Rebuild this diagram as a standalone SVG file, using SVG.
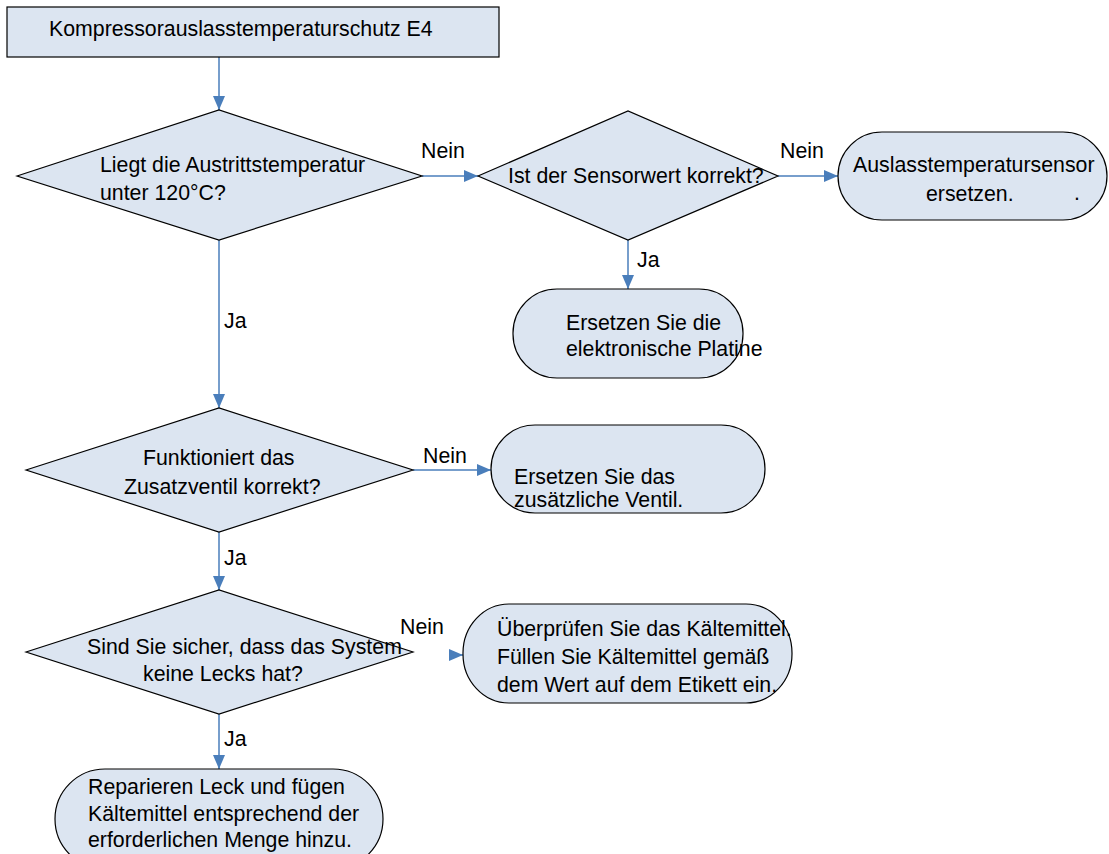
<svg xmlns="http://www.w3.org/2000/svg" width="1109" height="854" viewBox="0 0 1109 854">
<style>
.n{fill:#dce5f1;stroke:#000;stroke-width:1.2}
.t{font-family:"Liberation Sans",Arial,sans-serif;font-size:21.3px;fill:#000}
.c{fill:none;stroke:#4a7ebb;stroke-width:1.5}
</style>
<defs>
<marker id="ah" viewBox="0 0 14 12" refX="14" refY="6" markerWidth="14" markerHeight="12" markerUnits="userSpaceOnUse" orient="auto">
<path d="M0,0 L14,6 L0,12 z" fill="#4a7ebb"/>
</marker>
</defs>
<rect width="1109" height="854" fill="#fff"/>
<g id="connectors">
<path class="c" d="M219,57 V110" marker-end="url(#ah)"/>
<path class="c" d="M422,176 H478" marker-end="url(#ah)"/>
<path class="c" d="M778,176 H838" marker-end="url(#ah)"/>
<path class="c" d="M628,240 V289" marker-end="url(#ah)"/>
<path class="c" d="M219,240 V408" marker-end="url(#ah)"/>
<path class="c" d="M413,470 H491" marker-end="url(#ah)"/>
<path class="c" d="M219,532 V590" marker-end="url(#ah)"/>
<path class="c" d="M450,655 H463" marker-end="url(#ah)"/>
<path class="c" d="M219,714 V769" marker-end="url(#ah)"/>
<text class="t" x="421" y="158">Nein</text>
<text class="t" x="780" y="158">Nein</text>
<text class="t" x="637" y="267">Ja</text>
<text class="t" x="224" y="328">Ja</text>
<text class="t" x="423" y="463">Nein</text>
<text class="t" x="224" y="565">Ja</text>
<text class="t" x="400" y="634">Nein</text>
<text class="t" x="224" y="746">Ja</text>
</g>
<g id="start">
<rect class="n" x="7" y="7" width="492" height="50"/>
<text class="t" x="49" y="36">Kompressorauslasstemperaturschutz E4</text>
</g>
<g id="d1">
<polygon class="n" points="17,176 219,110 422,176 219,240"/>
<text class="t" x="100" y="172">Liegt die Austrittstemperatur</text>
<text class="t" x="100" y="200">unter 120°C?</text>
</g>
<g id="d2">
<polygon class="n" points="478,176 628,111 778,176 628,240"/>
<text class="t" x="508" y="183">Ist der Sensorwert korrekt?</text>
</g>
<g id="r1">
<rect class="n" x="838" y="132" width="269" height="88" rx="44" ry="44"/>
<text class="t" x="853" y="172">Auslasstemperatursensor</text>
<text class="t" x="926" y="201">ersetzen.</text>
<text class="t" x="1074" y="200">.</text>
</g>
<g id="r2">
<rect class="n" x="513" y="289" width="230" height="89" rx="44" ry="44"/>
<text class="t" x="566" y="330">Ersetzen Sie die</text>
<text class="t" x="566" y="356">elektronische Platine</text>
</g>
<g id="d3">
<polygon class="n" points="26,470 219,408 413,470 219,532"/>
<text class="t" x="143" y="465">Funktioniert das</text>
<text class="t" x="124" y="494">Zusatzventil korrekt?</text>
</g>
<g id="r3">
<rect class="n" x="491" y="425" width="274" height="88" rx="44" ry="44"/>
<text class="t" x="514" y="484">Ersetzen Sie das</text>
<text class="t" x="514" y="507">zusätzliche Ventil.</text>
</g>
<g id="d4">
<polygon class="n" points="26,652 219,590 413,652 219,714"/>
<text class="t" x="87" y="654">Sind Sie sicher, dass das System</text>
<text class="t" x="143" y="681">keine Lecks hat?</text>
</g>
<g id="r4">
<rect class="n" x="463" y="604" width="329" height="99" rx="46" ry="49"/>
<text class="t" x="497" y="636">Überprüfen Sie das Kältemittel.</text>
<text class="t" x="497" y="664">Füllen Sie Kältemittel gemäß</text>
<text class="t" x="497" y="692">dem Wert auf dem Etikett ein.</text>
</g>
<g id="r5">
<rect class="n" x="55" y="769" width="328" height="100" rx="50" ry="50"/>
<text class="t" x="88" y="794">Reparieren Leck und fügen</text>
<text class="t" x="88" y="821">Kältemittel entsprechend der</text>
<text class="t" x="88" y="847">erforderlichen Menge hinzu.</text>
</g>
</svg>
